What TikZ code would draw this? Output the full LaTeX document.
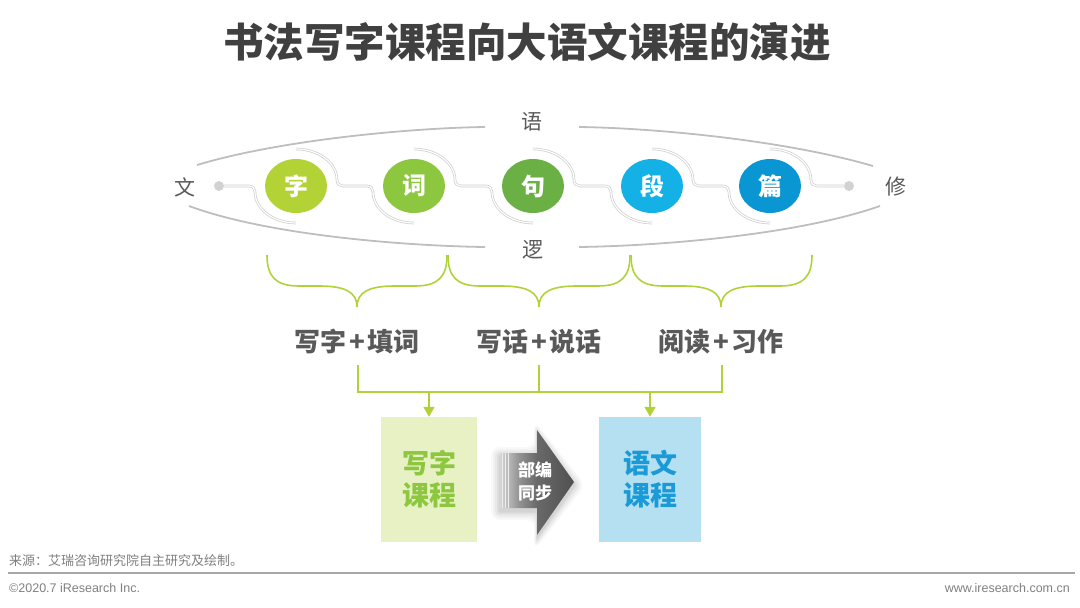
\documentclass[tikz,border=0pt]{standalone}
\usepackage{fontspec}
\setmainfont{Noto Sans CJK SC}
\newfontfamily\lat{Liberation Sans}
\usetikzlibrary{shapes.geometric,arrows.meta,calc}
\definecolor{titlegray}{RGB}{64,64,64}
\definecolor{txtgray}{RGB}{89,89,89}
\definecolor{lensgray}{RGB}{190,190,190}
\definecolor{conngray}{RGB}{205,205,205}
\definecolor{dotgray}{RGB}{210,210,210}
\definecolor{cA}{RGB}{178,210,53}
\definecolor{cB}{RGB}{141,198,63}
\definecolor{cC}{RGB}{106,176,68}
\definecolor{cD}{RGB}{20,177,231}
\definecolor{cE}{RGB}{10,150,210}
\definecolor{brgreen}{RGB}{176,210,56}
\definecolor{boxgreen}{RGB}{231,241,196}
\definecolor{boxblue}{RGB}{180,224,242}
\definecolor{txtgreen}{RGB}{141,198,63}
\definecolor{txtblue}{RGB}{26,154,214}
\definecolor{footgray}{RGB}{127,127,127}
\definecolor{rulegray}{RGB}{166,166,166}
\definecolor{stripe}{RGB}{235,235,235}
\definecolor{ag1}{RGB}{215,215,215}
\definecolor{ag2}{RGB}{150,150,150}
\definecolor{ag3}{RGB}{105,105,105}
\definecolor{ag4}{RGB}{80,80,80}
\pgfdeclarehorizontalshading{arrowshade}{100bp}{color(0bp)=(ag1); color(25bp)=(ag1); color(37bp)=(ag2); color(50bp)=(ag3); color(75bp)=(ag4); color(100bp)=(ag4)}
\begin{document}
\begin{tikzpicture}[x=1pt,y=-1pt,
  circ/.style={ellipse,minimum width=62pt,minimum height=54pt,inner sep=0pt,text=white,
    font=\fontsize{24}{28}\selectfont\bfseries},
  lbl/.style={text=txtgray,font=\fontsize{21}{25}\selectfont,inner sep=1pt},
  lens/.style={draw=lensgray,line width=1.8pt},
  conn/.style={draw=conngray,line width=0.7pt,double=white,double distance=1.2pt},
  brace/.style={draw=brgreen,line width=1.6pt},
  gline/.style={draw=brgreen,line width=1.8pt},
  garrow/.style={draw=brgreen,line width=1.8pt,-{Triangle[width=11pt,length=10pt]}},
  grp/.style={text=txtgray,font=\fontsize{26}{30}\selectfont\bfseries,inner sep=2pt},
  course/.style={minimum height=125pt,inner sep=0pt,align=center,font=\fontsize{27}{32}\selectfont\bfseries}
]
\useasboundingbox (0,0) rectangle (1080,608);

% title
\node[font=\fontsize{40.5}{48}\selectfont\bfseries,text=titlegray] (title) at (527,42) {书法写字课程向大语文课程的演进};

% side labels
\node[lbl] (yu) at (532,122) {语};
\node[lbl] (luo) at (533,250) {逻};
\node[lbl] (wen) at (185,187) {文};
\node[lbl] (xiu) at (896,187) {修};

% lens
\draw[lens] (485,127) .. controls (410,128) and (280,140) .. (197,165);
\draw[lens] (579,127) .. controls (654,128) and (784,140) .. (873,166);
\draw[lens] (485,247) .. controls (410,246) and (270,236) .. (189,206);
\draw[lens] (579,247) .. controls (654,246) and (794,236) .. (880,206);

% dots
\node[circle,fill=dotgray,minimum size=10pt,inner sep=0pt] (dl) at (219,186) {};
\node[circle,fill=dotgray,minimum size=10pt,inner sep=0pt] (dr) at (849,186) {};

% circles
\node[circ,fill=cA] (c1) at (296,186) {字};
\node[circ,fill=cB] (c2) at (414,186) {词};
\node[circ,fill=cC] (c3) at (533,186) {句};
\node[circ,fill=cD] (c4) at (652,186) {段};
\node[circ,fill=cE] (c5) at (770,186) {篇};

% connector
\draw[conn] (dl.east) -- ([shift={(-47,0)}]c1.center)
  .. controls +(4,0) and +(0,-3) .. ([shift={(-41,6)}]c1.center)
  .. controls +(0,17) and +(-22.6,0) .. ([shift={(0,37)}]c1.center);
\foreach \i/\j in {1/2,2/3,3/4,4/5}{
  \draw[conn] ([shift={(0,-37)}]c\i.center)
    .. controls +(22.6,0) and +(0,-17) .. ([shift={(41,-6)}]c\i.center)
    .. controls +(0,4) and +(-3,0) .. ([shift={(47,0)}]c\i.center)
    -- ([shift={(-47,0)}]c\j.center)
    .. controls +(4,0) and +(0,-3) .. ([shift={(-41,6)}]c\j.center)
    .. controls +(0,17) and +(-22.6,0) .. ([shift={(0,37)}]c\j.center);
}
\draw[conn] ([shift={(0,-37)}]c5.center)
  .. controls +(22.6,0) and +(0,-17) .. ([shift={(41,-6)}]c5.center)
  .. controls +(0,4) and +(-3,0) .. ([shift={(47,0)}]c5.center)
  -- (dr.west);

% braces
\foreach \xl/\xm/\xr in {267/357/447, 448/539/630, 631/721/812}{
  \draw[brace] (\xl,255) .. controls (\xl,276) and (\xl+8,286) .. (\xl+32,286)
    -- (\xm-38,286) .. controls (\xm-12,286) and (\xm,292) .. (\xm,307)
    .. controls (\xm,292) and (\xm+12,286) .. (\xm+38,286)
    -- (\xr-32,286) .. controls (\xr-8,286) and (\xr,276) .. (\xr,255);
}

% group texts
\node[grp] (t1) at (357,342) {写字\hspace{3pt}+\hspace{3pt}填词};
\node[grp] (t2) at (539,342) {写话\hspace{3pt}+\hspace{3pt}说话};
\node[grp] (t3) at (721,342) {阅读\hspace{3pt}+\hspace{3pt}习作};

% boxes
\node[course,fill=boxgreen,text=txtgreen,minimum width=96pt] (b1) at (429,479.5) {写字\\课程};
\node[course,fill=boxblue,text=txtblue,minimum width=102pt] (b2) at (650,479.5) {语文\\课程};

% bus lines
\coordinate (u1) at (358,365);
\coordinate (u2) at (539,365);
\coordinate (u3) at (722,365);
\coordinate (k1) at (358,392);
\coordinate (k2) at (539,392);
\coordinate (k3) at (722,392);
\coordinate (a1) at (429,392);
\coordinate (a2) at (650,392);
\draw[gline] (u1) -- (k1) -- (k3) -- (u3);
\draw[gline] (u2) -- (k2);
\draw[garrow] (a1) -- (b1.north);
\draw[garrow] (a2) -- (b2.north);

% central arrow: soft shadow
\foreach \s/\o in {9/0.025,7/0.03,5/0.035,3/0.04,1.5/0.05}{
  \fill[black,opacity=\o,rounded corners=\s pt]
    (500-\s,453-\s+3) -- (537-\s*0.3,453-\s+3) -- (537-\s*0.3,430-\s*1.4+3) -- (574+\s*1.3,482+3)
    -- (537-\s*0.3,535+\s*1.4+3) -- (537-\s*0.3,508+\s+3) -- (500-\s,508+\s+3) -- cycle;
}
\shade[shading=arrowshade]
  (500,453) -- (537,453) -- (537,430) -- (574,482) -- (537,535) -- (537,508) -- (500,508) -- cycle;
\foreach \xx in {502.5,505.5,508.5}{
  \draw[draw=stripe,line width=1.2pt] (\xx,453) -- (\xx,508);
}
\node[font=\fontsize{17}{23}\selectfont\bfseries,text=white,align=center,inner sep=0pt] (mid) at (535,481) {部编\\同步};

% footer
\node[anchor=west,text=footgray,font=\fontsize{13}{15}\selectfont,inner sep=0pt] (src) at (9,561) {来源：艾瑞咨询研究院自主研究及绘制。};
\draw[rulegray,line width=1.8pt] (8,573) -- (1075,573);
\node[anchor=west,text=footgray,font=\lat\fontsize{12.5}{15}\selectfont,inner sep=0pt] (copy) at (9,588) {©2020.7 iResearch Inc.};
\node[anchor=east,text=footgray,font=\lat\fontsize{12.5}{15}\selectfont,inner sep=0pt] (web) at (1070,588) {www.iresearch.com.cn};
\end{tikzpicture}
\end{document}
